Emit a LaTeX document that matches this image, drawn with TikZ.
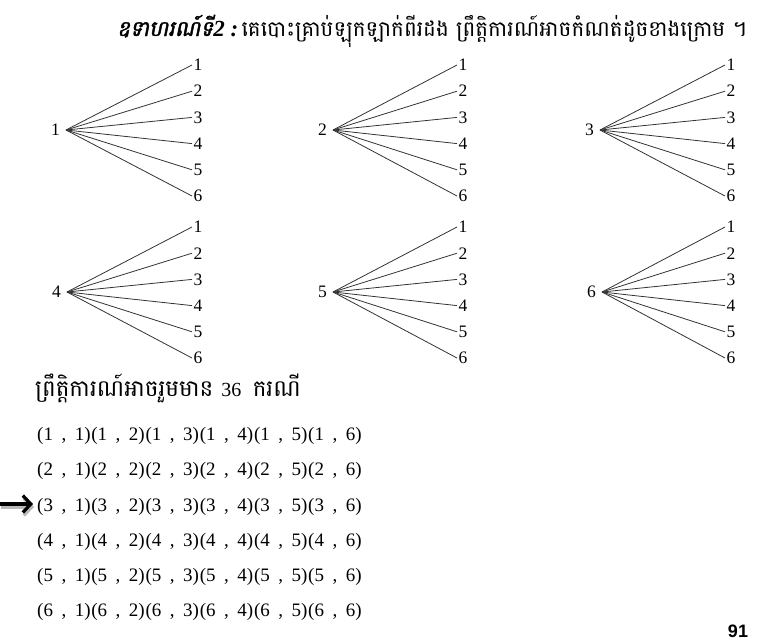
\documentclass[tikz,border=0pt]{standalone}
\usepackage{fontspec}
\setmainfont{Liberation Serif}
\newfontfamily\khfont[Script=Khmer]{Battambang}
\newfontfamily\khtitle[Script=Khmer,FakeSlant=0.2,FakeBold=2]{Battambang}
\newfontfamily\pagefont{Liberation Sans}
\usetikzlibrary{arrows.meta}

\newcommand{\pairtxt}[2]{(#1\hspace{8.5pt},\hspace{8.5pt}#2)}

\begin{document}
\begin{tikzpicture}[x=1pt,y=-1pt,
      branch/.style={line width=0.8pt, black!80},
      leaf/.style={anchor=west, inner sep=1.5pt, font=\fontsize{17.5}{17.5}\selectfont},
      rootlbl/.style={anchor=east, inner sep=1.5pt, font=\fontsize{17.5}{17.5}\selectfont},
      pairbox/.style={anchor=west, inner sep=0pt, font=\fontsize{19}{19}\selectfont},
      khline/.style={anchor=base west, inner sep=0pt},
      pointer/.style={line width=3.2pt, -{Straight Barb[length=8pt,width=17pt]}},
      pointershade/.style={pointer, gray!55}
  ]
    \useasboundingbox (0,0) rectangle (771,641);
    \node[khline] (title) at (117,36)
      {{\khtitle\fontsize{21.5}{21.5}\selectfont ឧទាហរណ៍ទី}{\bfseries\itshape\fontsize{23}{23}\selectfont 2 :}
       {\khfont\fontsize{21.5}{21.5}\selectfont គេបោះគ្រាប់ឡុកឡាក់ពីរដង  ព្រឹត្តិការណ៍អាចកំណត់ដូចខាងក្រោម ។}};
    \foreach \t/\rx/\ry/\ex/\ly in {1/66/130/192/65, 2/333/130/457/65, 3/600/130/725/65,
                                    4/67/292/192/227, 5/333/292/457/227, 6/602/292/725/227}{
      \coordinate (r\t) at (\rx,\ry);
      \node[rootlbl] (r\t lab) at ([xshift=-4.5pt]r\t) {\t};
      \foreach \k in {1,...,6}{
        \node[leaf] (l\t-\k) at (\ex,{\ly+26.2*(\k-1)}) {\k};
        \draw[branch] (r\t) -- (l\t-\k.west);
      }
    }
    \node[khline] (total) at (35,396)
      {\khfont\fontsize{23}{23}\selectfont ព្រឹត្តិការណ៍អាចរួមមាន {\rmfamily\fontsize{20}{20}\selectfont 36}\enspace ករណី};
    \foreach \i/\yy in {1/436,2/471,3/507,4/542,5/577,6/612}
      \foreach \j in {1,...,6}
        \node[pairbox] (p\i-\j) at ({37+54.2*(\j-1)},\yy) {\pairtxt{\i}{\j}};
    \coordinate (arrtail) at (0,504);
    \draw[pointershade] ([shift={(1,3)}]arrtail) -- ([shift={(-3,0)}]p3-1.west |- 0,507);
    \draw[pointer] (arrtail) -- ([xshift=-4pt]p3-1.west |- arrtail);
    \node[anchor=north, inner sep=0pt, font=\pagefont\bfseries\fontsize{18}{18}\selectfont] (page) at (738,625) {91};
  \end{tikzpicture}
\end{document}
